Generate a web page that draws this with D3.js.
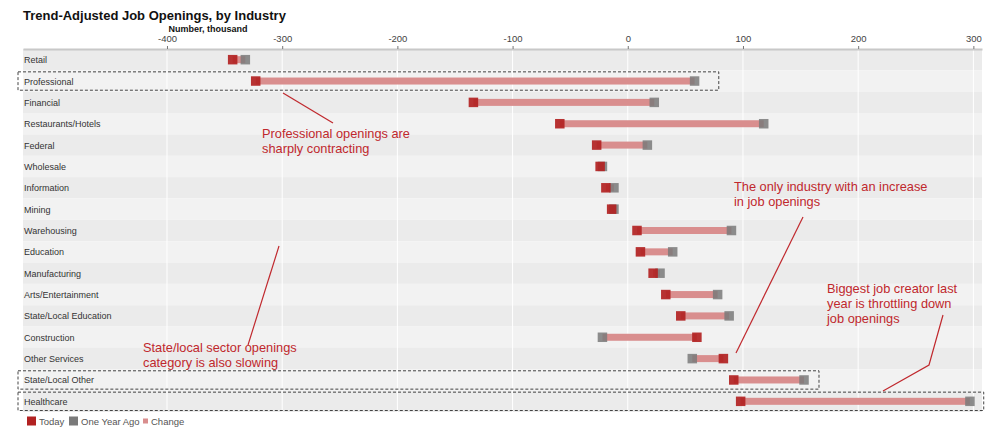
<!DOCTYPE html>
<html>
<head>
<meta charset="utf-8">
<script src="https://cdn.jsdelivr.net/npm/d3@7"></script>
<style>
  body { margin: 0; background: #fff; }
  svg text { font-family: Arial, "Liberation Sans", sans-serif; }
</style>
</head>
<body>
<div id="chart"></div>
<script>
var width = 1000, height = 445;
var margin = {top: 49, right: 18, bottom: 33, left: 23};

// data, thousand job openings
var industries = ["Retail", "Professional", "Financial", "Restaurants/Hotels", "Federal", "Wholesale",
  "Information", "Mining", "Warehousing", "Education", "Manufacturing", "Arts/Entertainment",
  "State/Local Education", "Construction", "Other Services", "State/Local Other", "Healthcare"];
var today   = [-343, -323, -134, -59, -27, -24, -19, -14, 8, 11, 22, 33, 46, 60, 83, 92, 98];
var yearAgo = [-332,   58,   23, 118,  17, -22, -12, -12, 90, 39, 28, 78, 88, -22, 56, 153, 297];
var tickValues = [-400, -300, -200, -100, 0, 100, 200, 300];

// highlighted rows: [row, right end value]
var boxes = [["Professional", 79], ["State/Local Other", 166], ["Healthcare", 309]];

var red = "#b22222", grey = "#7a7a7a", pink = "#d98e8e", noteRed = "#c0282d";

var svg = d3.select("#chart").append("svg")
  .attr("width", width)
  .attr("height", height);

var x = d3.scaleLinear()
  .domain([-525, 307.5])
  .range([margin.left, width - margin.right]);

var y = d3.scaleBand()
  .domain(industries)
  .range([margin.top, height - margin.bottom])
  .padding(0);

// title
svg.append("text")
  .attr("x", 23).attr("y", 20)
  .attr("font-size", 13).attr("font-weight", "bold").attr("fill", "#111")
  .text("Trend-Adjusted Job Openings, by Industry");
svg.append("text")
  .attr("x", 208).attr("y", 31.5)
  .attr("text-anchor", "middle")
  .attr("font-size", 9).attr("font-weight", "bold").attr("fill", "#111")
  .text("Number, thousand");

// row bands
svg.append("g").selectAll("rect")
  .data(industries).enter()
  .append("rect")
  .attr("x", margin.left)
  .attr("y", function(d) { return y(d); })
  .attr("width", x.range()[1] - margin.left)
  .attr("height", y.bandwidth())
  .attr("fill", function(d, i) { return i % 2 == 0 ? "#ebebeb" : "#f2f2f2"; });

// grid
svg.append("g").selectAll("line")
  .data(tickValues).enter()
  .append("line")
  .attr("x1", function(d) { return x(d); })
  .attr("x2", function(d) { return x(d); })
  .attr("y1", margin.top)
  .attr("y2", height - margin.bottom)
  .attr("stroke", "#fff")
  .attr("stroke-width", 1);

// axis on top
var axis = svg.append("g")
  .attr("transform", "translate(0," + margin.top + ")")
  .call(d3.axisTop(x).tickValues(tickValues).tickSize(3).tickSizeOuter(0)
    .tickFormat(function(d) { return String(d); }));
axis.select(".domain").attr("stroke", "#c8c8c8").attr("stroke-width", 2);
axis.selectAll(".tick line").attr("stroke", "#777");
axis.selectAll(".tick text").attr("font-size", 9.5).attr("fill", "#444").attr("dy", "-0.1em");

// category labels
svg.append("g").selectAll("text")
  .data(industries).enter()
  .append("text")
  .attr("x", margin.left + 1)
  .attr("y", function(d) { return y(d) + y.bandwidth() / 2 + 3.5; })
  .attr("font-size", 9)
  .attr("fill", "#333")
  .text(function(d) { return d; });

var rows = industries.map(function(d, i) { return {name: d, today: today[i], ago: yearAgo[i]}; });
var cy = function(d) { return y(d.name) + y.bandwidth() / 2; };
var s = 9.5;

var g = svg.append("g");
// change bars
g.selectAll(".bar")
  .data(rows).enter()
  .append("rect")
  .attr("class", "bar")
  .attr("x", function(d) { return x(Math.min(d.today, d.ago)); })
  .attr("y", function(d) { return cy(d) - 3.5; })
  .attr("width", function(d) { return Math.abs(x(d.ago) - x(d.today)); })
  .attr("height", 7)
  .attr("fill", pink);

// year ago markers
g.selectAll(".ago")
  .data(rows).enter()
  .append("rect")
  .attr("class", "ago")
  .attr("x", function(d) { return x(d.ago) - s / 2; })
  .attr("y", function(d) { return cy(d) - s / 2; })
  .attr("width", s).attr("height", s)
  .attr("fill", grey)
  .attr("opacity", 0.85);

// today markers
g.selectAll(".today")
  .data(rows).enter()
  .append("rect")
  .attr("class", "today")
  .attr("x", function(d) { return x(d.today) - s / 2; })
  .attr("y", function(d) { return cy(d) - s / 2; })
  .attr("width", s).attr("height", s)
  .attr("fill", red)
  .attr("opacity", 0.92);

// dashed highlight boxes
svg.append("g").selectAll("rect")
  .data(boxes).enter()
  .append("rect")
  .attr("x", 18)
  .attr("y", function(d) { return y(d[0]) + 1.5; })
  .attr("width", function(d) { return x(d[1]) - 18; })
  .attr("height", y.bandwidth() - 3)
  .attr("fill", "none")
  .attr("stroke", "#444")
  .attr("stroke-width", 1)
  .attr("stroke-dasharray", "3,2");

// annotations
var notes = [
  {x: 262, y: 138, lines: ["Professional openings are", "sharply contracting"]},
  {x: 734, y: 191, lines: ["The only industry with an increase", "in job openings"]},
  {x: 143, y: 352, lines: ["State/local sector openings", "category is also slowing"]},
  {x: 827, y: 293, lines: ["Biggest job creator last", "year is throttling down", "job openings"]}
];
var leaders = [
  [[283, 93], [333, 123]],
  [[803, 217], [736, 353]],
  [[279, 246], [248, 345]],
  [[943, 315], [929, 365], [883, 391]]
];

svg.append("g").selectAll("path")
  .data(leaders).enter()
  .append("path")
  .attr("d", d3.line())
  .attr("fill", "none")
  .attr("stroke", noteRed)
  .attr("stroke-width", 1.2);

notes.forEach(function(n) {
  var t = svg.append("text")
    .attr("x", n.x).attr("y", n.y)
    .attr("font-size", 12.8)
    .attr("fill", noteRed);
  n.lines.forEach(function(l, i) {
    t.append("tspan").attr("x", n.x).attr("dy", i == 0 ? 0 : 15).text(l);
  });
});

// legend
var legend = [
  {label: "Today", color: red, size: 9, x: 27},
  {label: "One Year Ago", color: grey, size: 9, x: 69},
  {label: "Change", color: pink, size: 5, x: 143}
];
var lg = svg.append("g").selectAll("g")
  .data(legend).enter()
  .append("g");
lg.append("rect")
  .attr("x", function(d) { return d.x; })
  .attr("y", function(d) { return 421 - d.size / 2; })
  .attr("width", function(d) { return d.size; })
  .attr("height", function(d) { return d.size; })
  .attr("fill", function(d) { return d.color; });
lg.append("text")
  .attr("x", function(d) { return d.x + d.size + 3; })
  .attr("y", 424.5)
  .attr("font-size", 9.5)
  .attr("fill", "#555")
  .text(function(d) { return d.label; });
</script>
</body>
</html>
